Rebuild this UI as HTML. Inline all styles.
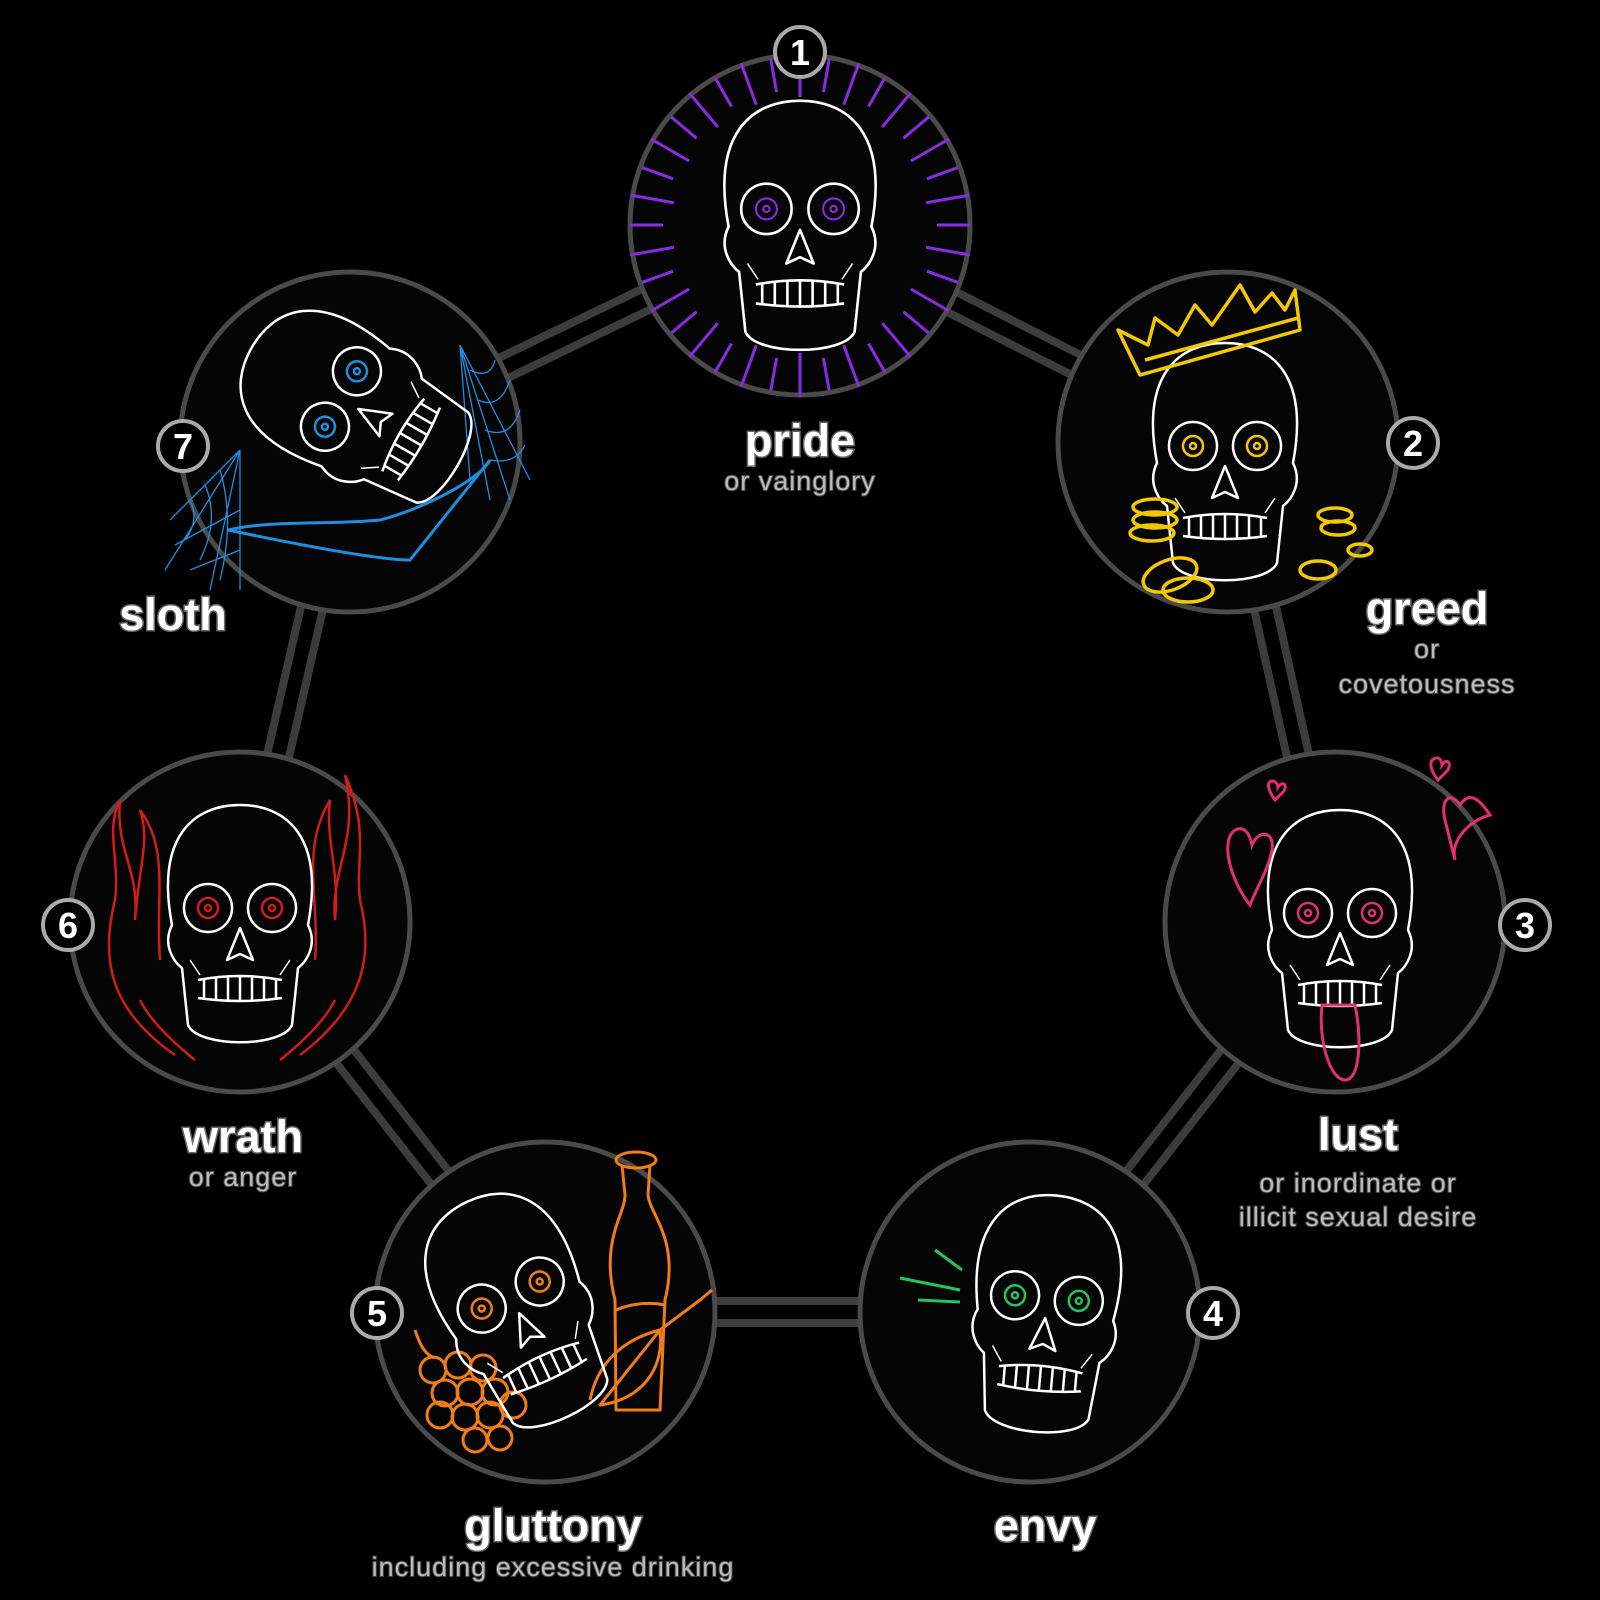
<!DOCTYPE html>
<html><head><meta charset="utf-8"><style>
html,body{margin:0;padding:0;background:#000;}
svg{display:block}
.t{font-family:"Liberation Sans",sans-serif;font-weight:bold;font-size:45px;fill:#fff;stroke:#666;stroke-width:3px;paint-order:stroke;text-anchor:middle}
.s{font-family:"Liberation Sans",sans-serif;font-size:27px;letter-spacing:1px;fill:#bbb;stroke:#444;stroke-width:2px;paint-order:stroke;text-anchor:middle}
.n{font-family:"Liberation Sans",sans-serif;font-weight:bold;font-size:36px;fill:#fff;text-anchor:middle}
</style></head><body>
<svg width="1600" height="1600" viewBox="0 0 1600 1600" xmlns="http://www.w3.org/2000/svg">
<defs>
<g id="skull" fill="none" stroke="#fff" stroke-width="2.5" stroke-linejoin="round">
<path d="M-68,-5 C-85,-95 -45,-125 0,-125 C45,-125 85,-95 68,-5 C78,15 66,32 58,38 L52,95 C42,118 -42,118 -52,95 L-58,38 C-66,32 -78,15 -68,-5 Z"/>
<circle cx="-32" cy="-22" r="24"/><circle cx="32" cy="-22" r="24"/>
<path d="M0,-2 L-13,30 L0,24 L13,30 Z"/>
<path d="M-42,50 Q0,42 42,50 M-42,68 Q0,74 42,68 M-36,50 L-36,68 M-24,48 L-24,70 M-12,47 L-12,71 M0,47 L0,71 M12,47 L12,71 M24,48 L24,70 M36,50 L36,68"/>
<path d="M-50,30 L-40,45 M50,30 L40,45" stroke-width="1.5"/>
</g>
</defs>

<g stroke-linecap="butt">
<g stroke="#3c3c3c" stroke-width="30">
<line x1="800" y1="225" x2="1228" y2="442"/><line x1="1228" y1="442" x2="1335" y2="922"/>
<line x1="1335" y1="922" x2="1030" y2="1312"/><line x1="1030" y1="1312" x2="545" y2="1312"/>
<line x1="545" y1="1312" x2="240" y2="922"/><line x1="240" y1="922" x2="350" y2="442"/>
<line x1="350" y1="442" x2="800" y2="225"/>
</g>
<g stroke="#000" stroke-width="14">
<line x1="800" y1="225" x2="1228" y2="442"/><line x1="1228" y1="442" x2="1335" y2="922"/>
<line x1="1335" y1="922" x2="1030" y2="1312"/><line x1="1030" y1="1312" x2="545" y2="1312"/>
<line x1="545" y1="1312" x2="240" y2="922"/><line x1="240" y1="922" x2="350" y2="442"/>
<line x1="350" y1="442" x2="800" y2="225"/>
</g>
</g>

<g fill="#050505" stroke="#4a4a4a" stroke-width="5">
<circle cx="800" cy="225" r="170"/><circle cx="1228" cy="442" r="170"/>
<circle cx="1335" cy="922" r="170"/><circle cx="1030" cy="1312" r="170"/>
<circle cx="545" cy="1312" r="170"/><circle cx="240" cy="922" r="170"/>
<circle cx="350" cy="442" r="170"/>
</g>

<!-- 1 pride -->
<g transform="translate(800,225)" stroke="#8a2be2" stroke-width="3">
<g id="rays"><line x1="0" y1="-128" x2="0" y2="-172"/><line x1="0" y1="-135" x2="0" y2="-168" transform="rotate(10)"/><line x1="0" y1="-128" x2="0" y2="-172" transform="rotate(20)"/><line x1="0" y1="-137" x2="0" y2="-170" transform="rotate(30)"/><line x1="0" y1="-128" x2="0" y2="-172" transform="rotate(40)"/><line x1="0" y1="-135" x2="0" y2="-168" transform="rotate(50)"/></g>
<use href="#rays" transform="rotate(60)"/><use href="#rays" transform="rotate(120)"/><use href="#rays" transform="rotate(180)"/><use href="#rays" transform="rotate(240)"/><use href="#rays" transform="rotate(300)"/>
</g>
<g transform="translate(800,232) scale(1.05)"><use href="#skull"/>
<g fill="none" stroke="#8a2be2" stroke-width="2"><circle cx="-32" cy="-22" r="10"/><circle cx="-32" cy="-22" r="3"/><circle cx="32" cy="-22" r="10"/><circle cx="32" cy="-22" r="3"/></g></g>

<!-- 2 greed -->
<g transform="translate(1225,468)"><use href="#skull"/>
<g fill="none" stroke="#f2c800" stroke-width="2.5"><circle cx="-32" cy="-22" r="10"/><circle cx="-32" cy="-22" r="3"/><circle cx="32" cy="-22" r="10"/><circle cx="32" cy="-22" r="3"/></g></g>
<g fill="none" stroke="#f2c800" stroke-width="3.5" stroke-linejoin="round">
<path d="M1140,375 L1118,330 L1148,345 L1155,318 L1178,335 L1195,305 L1212,325 L1240,285 L1255,312 L1272,293 L1285,310 L1295,290 L1300,330 Z"/>
<path d="M1145,360 L1298,318"/>
<ellipse cx="1155" cy="507" rx="22" ry="8"/><ellipse cx="1155" cy="520" rx="22" ry="8"/><ellipse cx="1152" cy="533" rx="22" ry="8"/>
<ellipse cx="1170" cy="575" rx="28" ry="15" transform="rotate(-20 1170 575)"/><ellipse cx="1188" cy="590" rx="25" ry="12"/>
<ellipse cx="1335" cy="515" rx="17" ry="7"/><ellipse cx="1338" cy="528" rx="17" ry="7"/>
<ellipse cx="1360" cy="550" rx="12" ry="6"/><ellipse cx="1318" cy="570" rx="18" ry="9"/>
</g>

<!-- 3 lust -->
<g transform="translate(1340,935)"><use href="#skull"/>
<g fill="none" stroke="#e0306f" stroke-width="2.5"><circle cx="-32" cy="-22" r="10"/><circle cx="-32" cy="-22" r="3"/><circle cx="32" cy="-22" r="10"/><circle cx="32" cy="-22" r="3"/></g></g>
<g fill="none" stroke="#e0306f" stroke-width="3">
<path d="M1322,1005 C1318,1040 1330,1080 1345,1080 C1360,1080 1362,1040 1355,1005 Z"/>
<path d="M1250,905 C1230,880 1220,840 1235,830 C1245,825 1250,835 1252,845 C1258,830 1275,830 1272,850 C1268,870 1258,885 1250,905 Z"/>
<path d="M1455,860 C1450,840 1470,820 1490,815 C1480,800 1470,790 1460,805 C1450,790 1440,800 1445,820 Z"/>
<path d="M1438,780 C1430,770 1428,760 1436,758 C1440,757 1442,762 1442,765 C1446,758 1452,762 1448,770 Z"/>
<path d="M1275,800 C1268,790 1266,782 1272,781 C1276,781 1278,785 1278,787 C1282,781 1288,784 1284,791 Z"/>
</g>

<!-- 4 envy -->
<g transform="translate(1045,1320) rotate(5)"><use href="#skull"/>
<g fill="none" stroke="#22c55e" stroke-width="2.5"><circle cx="-32" cy="-22" r="10"/><circle cx="-32" cy="-22" r="3"/><circle cx="32" cy="-22" r="10"/><circle cx="32" cy="-22" r="3"/></g></g>
<g stroke="#22c55e" stroke-width="3"><line x1="900" y1="1278" x2="960" y2="1290"/><line x1="935" y1="1250" x2="962" y2="1270"/><line x1="918" y1="1300" x2="960" y2="1302"/></g>

<!-- 5 gluttony -->
<g fill="none" stroke="#f07c1a" stroke-width="3" stroke-linejoin="round">
<ellipse cx="636" cy="1160" rx="20" ry="8"/>
<path d="M622,1165 L625,1195 C625,1215 600,1240 615,1300 L616,1410 L660,1410 L665,1300 C680,1240 650,1215 648,1195 L650,1165"/>
<path d="M616,1310 Q640,1300 666,1305"/>
<path d="M590,1400 C600,1350 640,1335 660,1330 L700,1300 L712,1290 M660,1330 C665,1370 640,1400 600,1405 Z"/>
<g><circle cx="433" cy="1370" r="13"/><circle cx="458" cy="1365" r="13"/><circle cx="483" cy="1368" r="13"/><circle cx="445" cy="1393" r="13"/><circle cx="470" cy="1392" r="13"/><circle cx="495" cy="1392" r="13"/><circle cx="440" cy="1415" r="13"/><circle cx="465" cy="1417" r="13"/><circle cx="490" cy="1415" r="13"/><circle cx="513" cy="1405" r="13"/><circle cx="475" cy="1440" r="12"/><circle cx="500" cy="1438" r="12"/></g>
<path d="M415,1330 C420,1345 425,1355 435,1358"/>
</g>
<g transform="translate(520,1315) rotate(-25)"><use href="#skull"/>
<g fill="none" stroke="#f07c1a" stroke-width="2.5"><circle cx="-32" cy="-22" r="10"/><circle cx="-32" cy="-22" r="3"/><circle cx="32" cy="-22" r="10"/><circle cx="32" cy="-22" r="3"/></g></g>

<!-- 6 wrath -->
<g fill="none" stroke="#d21c1c" stroke-width="2.5">
<path d="M175,1055 C110,1010 100,960 115,900 C120,860 105,830 120,800 C115,850 140,870 135,920 C140,860 150,840 140,810 C170,850 155,900 160,960"/>
<path d="M300,1055 C360,1010 375,960 360,900 C355,860 370,830 345,775 C360,840 330,870 335,920 C340,870 325,840 330,800 C300,850 320,900 315,960"/>
<path d="M140,1000 C150,1020 170,1040 195,1060 M335,1000 C325,1020 305,1040 280,1060"/>
</g>
<g transform="translate(240,930)"><use href="#skull"/>
<g fill="none" stroke="#d21c1c" stroke-width="2.5"><circle cx="-32" cy="-22" r="10"/><circle cx="-32" cy="-22" r="3"/><circle cx="32" cy="-22" r="10"/><circle cx="32" cy="-22" r="3"/></g></g>

<!-- 7 sloth -->
<g fill="none" stroke="#1e8fe0" stroke-width="3">
<path d="M228,530 C300,545 380,560 410,560 L490,460 C480,480 420,510 380,520 C330,525 270,520 228,530 Z"/>
</g>
<g fill="none" stroke="#1e8fe0" stroke-width="1.3">
<path d="M240,450 L170,520 M240,450 L165,570 M240,450 L210,590 M240,450 L240,590 M190,500 Q200,520 185,540 M205,485 Q220,520 200,560 M220,470 Q235,520 220,580 M175,545 L240,510 M190,570 L240,550"/>
<path d="M460,345 L530,480 M460,345 L510,500 M460,345 L490,500 M460,345 L470,480 M470,370 Q490,380 495,360 M478,400 Q500,410 510,380 M485,430 Q510,440 520,410 M490,460 Q515,465 525,445"/>
</g>
<g transform="translate(360,410) rotate(-60)"><use href="#skull"/>
<g fill="none" stroke="#1e8fe0" stroke-width="2.5"><circle cx="-32" cy="-22" r="10"/><circle cx="-32" cy="-22" r="3"/><circle cx="32" cy="-22" r="10"/><circle cx="32" cy="-22" r="3"/></g></g>

<g fill="#000" stroke="#aaa" stroke-width="4">
<circle cx="800" cy="52" r="25"/><circle cx="1413" cy="443" r="25"/><circle cx="1525" cy="925" r="25"/>
<circle cx="1213" cy="1313" r="25"/><circle cx="377" cy="1313" r="25"/><circle cx="68" cy="925" r="25"/><circle cx="183" cy="446" r="25"/>
</g>
<g class="n">
<text x="800" y="65">1</text><text x="1413" y="456">2</text><text x="1525" y="938">3</text>
<text x="1213" y="1326">4</text><text x="377" y="1326">5</text><text x="68" y="938">6</text><text x="183" y="459">7</text>
</g>

<text class="t" x="800" y="456">pride</text><text class="s" x="800" y="490">or vainglory</text>
<text class="t" x="1427" y="624">greed</text><text class="s" x="1427" y="658">or</text><text class="s" x="1427" y="693">covetousness</text>
<text class="t" x="1358" y="1150">lust</text><text class="s" x="1358" y="1192">or inordinate or</text><text class="s" x="1358" y="1226">illicit sexual desire</text>
<text class="t" x="1045" y="1541">envy</text>
<text class="t" x="553" y="1541">gluttony</text><text class="s" x="553" y="1576">including excessive drinking</text>
<text class="t" x="243" y="1152">wrath</text><text class="s" x="243" y="1186">or anger</text>
<text class="t" x="173" y="630">sloth</text>
</svg>
</body></html>
